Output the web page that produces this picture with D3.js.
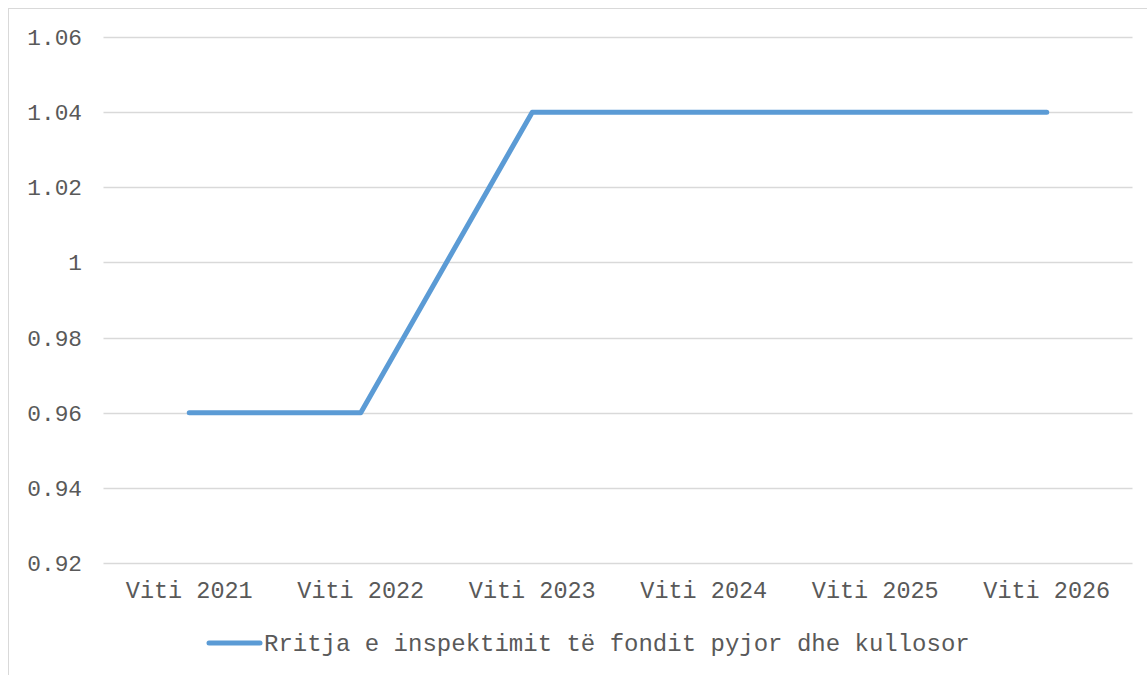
<!DOCTYPE html>
<html>
<head>
<meta charset="utf-8">
<script src="https://cdn.jsdelivr.net/npm/d3@7"></script>
<style>
  body { margin: 0; background: #fff; }
  text { font-family: "Courier New", "Liberation Mono", monospace; fill: #595959; }
</style>
</head>
<body>
<svg id="chart" width="1147" height="675"></svg>
<script>
var categories = ["Viti 2021", "Viti 2022", "Viti 2023", "Viti 2024", "Viti 2025", "Viti 2026"];
var values = [0.96, 0.96, 1.04, 1.04, 1.04, 1.04];
var yTicks = [0.92, 0.94, 0.96, 0.98, 1, 1.02, 1.04, 1.06];
var seriesName = "Rritja e inspektimit të fondit pyjor dhe kullosor";

var svg = d3.select("#chart"),
    width = +svg.attr("width"),
    height = +svg.attr("height");

// chart frame
svg.append("rect")
  .attr("x", 8.5).attr("y", 8.5)
  .attr("width", width + 10).attr("height", height + 10)
  .attr("fill", "none").attr("stroke", "#d9d9d9").attr("stroke-width", 1);

var x = d3.scaleBand()
  .domain(categories)
  .range([103.5, 1132.5]);

var y = d3.scaleLinear()
  .domain([0.92, 1.06])
  .range([563, 37]);

// gridlines
svg.append("g")
  .selectAll("line")
  .data(yTicks)
  .enter().append("line")
  .attr("x1", x.range()[0])
  .attr("x2", x.range()[1])
  .attr("y1", function(d) { return Math.round(y(d)) + 0.5; })
  .attr("y2", function(d) { return Math.round(y(d)) + 0.5; })
  .attr("stroke", "#d9d9d9")
  .attr("stroke-width", 1.5);

// y labels
svg.append("g")
  .selectAll("text")
  .data(yTicks)
  .enter().append("text")
  .attr("x", 82)
  .attr("y", function(d) { return y(d); })
  .attr("dy", "0.35em")
  .attr("text-anchor", "end")
  .style("font-size", "22.8px")
  .text(function(d) { return d3.format("")(+d.toFixed(2)); });

// x labels
svg.append("g")
  .selectAll("text")
  .data(categories)
  .enter().append("text")
  .attr("x", function(d) { return x(d) + x.bandwidth() / 2; })
  .attr("y", 590)
  .attr("dy", "0.35em")
  .attr("text-anchor", "middle")
  .style("font-size", "23.5px")
  .text(function(d) { return d; });

var line = d3.line()
  .x(function(d, i) { return x(categories[i]) + x.bandwidth() / 2; })
  .y(function(d) { return y(d); });

svg.append("path")
  .datum(values)
  .attr("d", line)
  .attr("fill", "none")
  .attr("stroke", "#5b9bd5")
  .attr("stroke-width", 5)
  .attr("stroke-linecap", "round")
  .attr("stroke-linejoin", "round");

// legend
var legend = svg.append("g");
legend.append("line")
  .attr("x1", 209).attr("x2", 260)
  .attr("y1", 643).attr("y2", 643)
  .attr("stroke", "#5b9bd5")
  .attr("stroke-width", 5)
  .attr("stroke-linecap", "round");
legend.append("text")
  .attr("x", 264)
  .attr("y", 643)
  .attr("dy", "0.35em")
  .style("font-size", "24px")
  .text(seriesName);
</script>
</body>
</html>
